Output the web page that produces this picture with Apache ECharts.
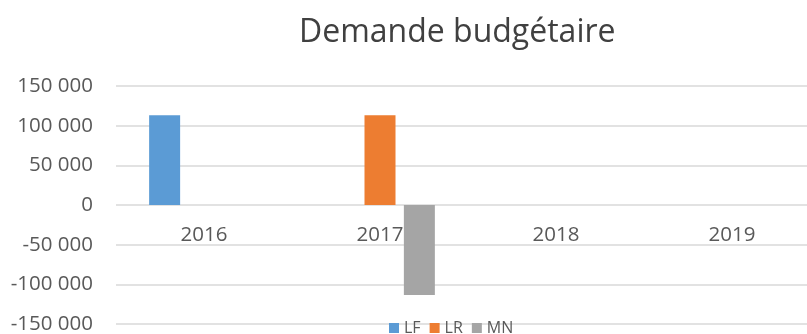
<!DOCTYPE html>
<html>
<head>
<meta charset="utf-8">
<script src="https://cdn.jsdelivr.net/npm/echarts@6/dist/echarts.min.js"></script>
<style>
  html, body { margin: 0; padding: 0; background: #ffffff; }
  #chart { width: 807px; height: 334px; }
</style>
</head>
<body>
<div id="chart"></div>
<script>
// Budget request by year, per line
const years = ['2016', '2017', '2018', '2019'];
const seriesNames = ['LF', 'LR', 'MN'];
const lfValues = [113000, 0, 0, 0];
const lrValues = [0, 113000, 0, 0];
const mnValues = [0, -113500, 0, 0];
const yTicks = { min: -150000, max: 150000, step: 50000 };

const FONT = 'Open Sans';
const TEXT = '#595959';
const GRID_LINE = '#d9d9d9';
const colors = ['#5B9BD5', '#ED7D31', '#A5A5A5'];

// Plot area geometry
const PLOT_TOP = 86;
const PLOT_HEIGHT = 238;

function spaced(v) {
  const s = String(Math.abs(v)).replace(/\B(?=(\d{3})+(?!\d))/g, ' ');
  return (v < 0 ? '-' : '') + s;
}

const chart = echarts.init(document.getElementById('chart'), null, { renderer: 'canvas' });
chart.setOption({
  animation: false,
  color: colors,
  title: {
    text: 'Demande budgétaire',
    left: 299,
    top: 17,
    padding: 0,
    textStyle: { fontFamily: FONT, fontSize: 32, fontWeight: 'normal', color: '#404040' }
  },
  legend: {
    data: seriesNames,
    left: 389,
    top: 320,
    padding: 0,
    itemWidth: 10,
    itemHeight: 10,
    itemGap: 9,
    icon: 'rect',
    textStyle: { fontFamily: FONT, fontSize: 16, color: TEXT, width: 29, overflow: 'none' }
  },
  grid: {
    left: 116, top: PLOT_TOP, width: 704, height: PLOT_HEIGHT,
    outerBoundsMode: 'none', containLabel: false
  },
  xAxis: {
    type: 'category',
    data: years,
    axisLine: { show: false, onZero: false },
    axisTick: { show: false },
    // category labels sit just under the zero line
    axisLabel: { fontFamily: FONT, fontSize: 20.5, color: TEXT, margin: -99 }
  },
  yAxis: {
    type: 'value',
    min: yTicks.min,
    max: yTicks.max,
    interval: yTicks.step,
    axisLine: { show: false },
    axisTick: { show: false },
    splitLine: { lineStyle: { color: GRID_LINE, width: 1.5 } },
    axisLabel: { fontFamily: FONT, fontSize: 20.5, color: TEXT, margin: 23, formatter: spaced }
  },
  series: [
    { name: 'LF', type: 'bar', data: lfValues, barWidth: 31, barGap: '27%', barCategoryGap: '37%' },
    { name: 'LR', type: 'bar', data: lrValues, barWidth: 31, barGap: '27%', barCategoryGap: '37%' },
    { name: 'MN', type: 'bar', data: mnValues, barWidth: 31, barGap: '27%', barCategoryGap: '37%' }
  ]
});
</script>
</body>
</html>
